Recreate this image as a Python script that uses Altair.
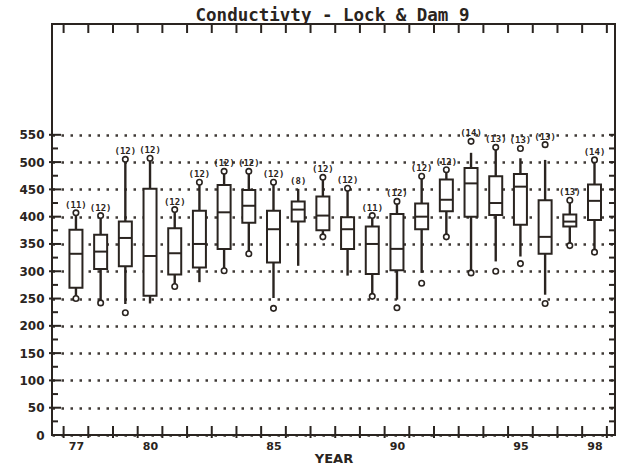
import altair as alt
import pandas as pd

# Yearly conductivity summaries, Lock & Dam 9
years = list(range(77, 99))
counts = [11, 12, 12, 12, 12, 12, 12, 12, 12, 8, 12, 12, 11, 12, 12, 12, 14, 13, 13, 13, 13, 14]
whisker_low = [250, 242, 240, 241, 272, 280, 301, 332, 251, 310, 363, 292, 254, 248, 297, 363, 297, 318, 327, 257, 347, 335]
quartile1 = [270, 304, 309, 255, 294, 307, 341, 389, 316, 391, 375, 341, 295, 302, 377, 410, 400, 403, 385, 332, 382, 394]
medians = [332, 336, 361, 328, 333, 350, 408, 420, 377, 413, 402, 377, 350, 341, 400, 431, 461, 425, 455, 363, 391, 429]
quartile3 = [376, 367, 391, 451, 379, 411, 458, 449, 411, 428, 437, 399, 382, 405, 424, 468, 489, 474, 478, 430, 404, 459]
whisker_high = [407, 402, 505, 507, 413, 463, 483, 483, 463, 451, 472, 452, 402, 428, 474, 486, 517, 527, 507, 504, 430, 504]

# extreme observations drawn as circles
circle_years = [77, 77, 78, 78, 79, 79, 80, 81, 81, 82, 83, 83, 84, 84, 85, 85, 87, 87, 88,
                89, 89, 90, 90, 91, 91, 92, 92, 93, 93, 94, 94, 95, 95, 96, 96, 97, 97, 98, 98]
circle_values = [250, 407, 242, 402, 224, 505, 507, 272, 413, 463, 301, 483, 332, 483, 232, 463, 363, 472, 452,
                 254, 402, 233, 428, 278, 474, 363, 486, 297, 538, 300, 527, 314, 525, 241, 532, 347, 430, 335, 504]

y_labels = list(range(0, 551, 50))
x_labels = [77, 80, 85, 90, 95, 98]

W, H = 563, 411
INK = "#2a2420"

stats = pd.DataFrame({
    "year": years, "n": counts, "lo": whisker_low, "q1": quartile1,
    "med": medians, "q3": quartile3, "hi": whisker_high,
})
circles = pd.DataFrame({"year": circle_years, "value": circle_values})
top_circle = circles.groupby("year")["value"].max()
stats["top"] = [max(h, top_circle.get(y, h)) for y, h in zip(years, whisker_high)]
stats["label"] = ["(" + str(n) + ")" for n in counts]

half_years = pd.DataFrame({"pos": [y + 0.5 for y in range(76, 99)]})
major_y = pd.DataFrame({"v": list(range(50, 551, 50))})
minor_y = pd.DataFrame({"v": list(range(25, 551, 50))})
all_y = pd.DataFrame({"v": list(range(25, 551, 25))})
one = pd.DataFrame({"k": [0]})

xs = alt.Scale(domain=[76.03, 98.83], nice=False, zero=False, padding=0)
ys = alt.Scale(domain=[0, 753], nice=False, zero=True, padding=0)

x_axis = alt.Axis(values=x_labels, format="d", title="YEAR", domain=False, ticks=False, grid=False,
                  labelFont="DejaVu Sans", labelFontSize=11, labelFontWeight="bold", labelColor=INK,
                  labelPadding=5, titleFont="DejaVu Sans", titleFontSize=13, titleFontWeight="bold",
                  titleColor=INK, titlePadding=1)
y_axis = alt.Axis(values=y_labels, format="d", title=None, domain=False, ticks=False, grid=True,
                  gridDash=[2.5, 6.5], gridWidth=2.4, gridColor=INK, gridOpacity=0.9,
                  labelFont="DejaVu Sans", labelFontSize=12, labelFontWeight="bold", labelColor=INK,
                  labelPadding=8)


def X(field):
    return alt.X(field + ":Q", scale=xs, axis=x_axis)


def Y(field):
    return alt.Y(field + ":Q", scale=ys, axis=y_axis)


base = alt.Chart(stats)

whiskers = base.mark_rule(color=INK, strokeWidth=2.4).encode(x=X("year"), y=Y("lo"), y2="hi:Q")
boxes = base.mark_bar(size=13, orient="vertical", fill="white", stroke=INK, strokeWidth=2).encode(
    x=X("year"), y=Y("q1"), y2="q3:Q")
median_ticks = base.mark_tick(orient="horizontal", size=13, thickness=2, color=INK, opacity=1).encode(
    x=X("year"), y=Y("med"))
points = alt.Chart(circles).mark_point(shape="circle", filled=True, fill="white", stroke=INK,
                                       strokeWidth=1.6, size=30, opacity=1).encode(
    x=X("year"), y=Y("value"))
n_text = base.mark_text(font="DejaVu Sans Mono", fontSize=9, fontWeight="bold", color=INK,
                        baseline="middle", dy=-8).encode(x=X("year"), y=Y("top"), text="label:N")

frame = alt.Chart(one).mark_rect(fillOpacity=0, stroke=INK, strokeWidth=2).encode(
    x=alt.value(0), x2=alt.value(W), y=alt.value(0), y2=alt.value(H))

bottom_ticks = alt.Chart(half_years).mark_rule(color=INK, strokeWidth=2).encode(
    x=X("pos"), y=alt.value(H - 9), y2=alt.value(H + 3))
top_ticks = alt.Chart(half_years).mark_rule(color=INK, strokeWidth=2).encode(
    x=X("pos"), y=alt.value(0), y2=alt.value(9))
left_major = alt.Chart(major_y).mark_rule(color=INK, strokeWidth=2).encode(
    y=Y("v"), x=alt.value(-3), x2=alt.value(9))
left_minor = alt.Chart(minor_y).mark_rule(color=INK, strokeWidth=2).encode(
    y=Y("v"), x=alt.value(0), x2=alt.value(6))
right_ticks = alt.Chart(all_y).mark_rule(color=INK, strokeWidth=2).encode(
    y=Y("v"), x=alt.value(W - 6), x2=alt.value(W))

title = alt.Chart(one).mark_text(text="Conductivty - Lock & Dam 9", font="DejaVu Sans Mono",
                                 fontSize=17.5, fontWeight="bold", color=INK, align="center",
                                 baseline="alphabetic").encode(
    x=alt.value(W / 2 - 1), y=alt.value(-3))

chart = alt.layer(
    whiskers, boxes, median_ticks, points, n_text,
    frame, bottom_ticks, top_ticks, left_major, left_minor, right_ticks, title,
).properties(
    width=W, height=H,
    padding={"left": 52, "top": 24, "right": 3, "bottom": 33},
    autosize=alt.AutoSizeParams(type="none"),
    background="white",
).configure_view(stroke=None)

chart.save("out.html", embed_options={"renderer": "svg", "actions": False})
